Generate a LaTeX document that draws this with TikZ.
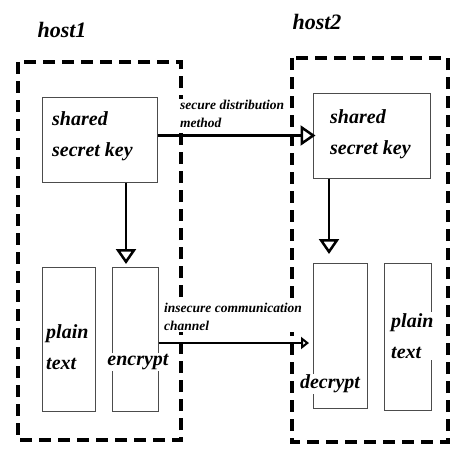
\documentclass[tikz,border=0pt]{standalone}
\usepackage{fontspec}
\setmainfont{Liberation Serif}
\usetikzlibrary{arrows.meta}
\begin{document}
\begin{tikzpicture}[x=1pt,y=-1pt,
  hostbox/.style={line width=3.5pt,dash pattern=on 12pt off 7pt},
  box/.style={draw=black!70,line width=1pt,minimum width=#1,inner sep=0pt},
  big/.style={font=\fontsize{20}{31}\selectfont\bfseries\itshape,align=left,inner sep=0pt},
  small/.style={font=\fontsize{13.5}{18}\selectfont\bfseries\itshape,align=left,inner sep=1pt,fill=white},
  hostlbl/.style={font=\fontsize{22}{26}\selectfont\bfseries\itshape,inner sep=0pt},
  bigarr/.style={line width=2.5pt,-{Triangle[open,length=15pt,width=20pt]}},
  smallarr/.style={line width=2.5pt,-{Triangle[open,length=8pt,width=12pt]}}
]
\useasboundingbox (0,0) rectangle (451,452);
\fill[white] (0,0) rectangle (451,452);
% host boxes
\draw[hostbox] (18,62) rectangle (181,440);
\draw[hostbox] (292,58) rectangle (448,442);
\node[hostlbl] (h1) at (62,30) {host1};
\node[hostlbl] (h2) at (317,22) {host2};
% key boxes
\node[box=115pt,minimum height=85pt] (key1) at (99.5,139.5) {};
\node[box=117pt,minimum height=85pt] (key2) at (371.5,135.5) {};
\node[big,anchor=west] (k1t) at (52,136.5) {shared\\secret key};
\node[big,anchor=west] (k2t) at (330,134.5) {shared\\secret key};
% lower boxes
\node[box=53pt,minimum height=144pt] (plain1) at (68.5,339) {};
\node[box=46pt,minimum height=144pt] (enc) at (135,339) {};
\node[box=54pt,minimum height=145pt] (dec) at (340,335.5) {};
\node[box=47pt,minimum height=147pt] (plain2) at (407.5,336.5) {};
\node[big,anchor=west,fill=white,inner sep=1pt] (p1t) at (45,347.5) {plain\\text};
\node[big,fill=white,inner sep=1pt] (enct) at (138,362) {encrypt};
\node[big,fill=white,inner sep=1pt] (dect) at (330,384) {decrypt};
\node[big,anchor=west,fill=white,inner sep=1pt] (p2t) at (390,336) {plain\\text};
% labels
\node[small,anchor=west] (sl) at (179,114) {secure distribution\\method};
\node[small,anchor=west] (il) at (163,317) {insecure communication\\channel};
% arrows
\draw[bigarr] (key1.east |- key2.west) -- ([xshift=3pt]key2.west);
\coordinate (a1) at (126,264);
\draw[bigarr] (key1.south -| a1) -- (a1);
\coordinate (a2) at (329,254);
\draw[bigarr] (key2.south -| a2) -- (a2);
\coordinate (c1) at (309,343);
\draw[smallarr] (enc.east |- c1) -- (c1);
\end{tikzpicture}
\end{document}
